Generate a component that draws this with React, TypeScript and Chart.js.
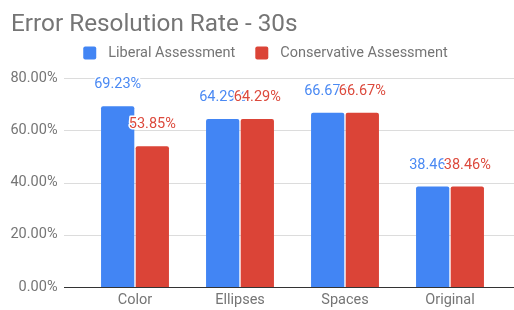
import React, { useEffect, useRef } from "react";
import { Chart, registerables } from "chart.js";

Chart.register(...registerables);

const TITLE = "Error Resolution Rate - 30s";
const categories = ["Color", "Ellipses", "Spaces", "Original"];
const seriesNames = ["Liberal Assessment", "Conservative Assessment"];
const liberal = [69.23, 64.29, 66.67, 38.46];
const conservative = [53.85, 64.29, 66.67, 38.46];
const seriesColors = ["#4285F4", "#DB4437"];
const labelColors = ["#4a89f3", "#dc4a3d"];
const yTicks = [0, 20, 40, 60, 80];

const FONT = "Roboto";
const GREY = "#757575";
const AREA_BOTTOM = 287;

const titlePlugin = {
  id: "titleText",
  afterDraw(chart: any) {
    const ctx = chart.ctx;
    ctx.save();
    ctx.font = `400 24.3px ${FONT}`;
    ctx.fillStyle = GREY;
    ctx.textAlign = "left";
    ctx.textBaseline = "alphabetic";
    ctx.fillText(TITLE, 11, 31);
    ctx.restore();
  },
};

const legendPlugin = {
  id: "customLegend",
  afterDraw(chart: any) {
    const ctx = chart.ctx;
    ctx.save();
    ctx.font = `400 14.5px ${FONT}`;
    ctx.textBaseline = "middle";
    ctx.textAlign = "left";
    const box = 13;
    const gap = 12;
    const itemGap = 20;
    const items = chart.data.datasets.map((d: any) => ({
      label: d.label,
      color: d.backgroundColor,
      w: box + gap + ctx.measureText(d.label).width,
    }));
    const total = items.reduce((s: number, it: any) => s + it.w, 0) + itemGap * (items.length - 1);
    let x = 265.5 - total / 2;
    const cy = 53;
    items.forEach((it: any) => {
      ctx.fillStyle = it.color;
      ctx.beginPath();
      (ctx as any).roundRect(x, cy - 6.5, box, 13, 2);
      ctx.fill();
      ctx.fillStyle = GREY;
      ctx.fillText(it.label, x + box + gap, cy);
      x += it.w + itemGap;
    });
    ctx.restore();
  },
};

const gridPlugin = {
  id: "wideGrid",
  beforeDatasetsDraw(chart: any) {
    const ctx = chart.ctx;
    const y = chart.scales.y;
    ctx.save();
    yTicks.forEach((v) => {
      const py = Math.round(y.getPixelForValue(v)) + 0.5;
      ctx.beginPath();
      ctx.strokeStyle = v === 0 ? "#333333" : "#dcdcdc";
      ctx.lineWidth = 1;
      ctx.moveTo(64, py);
      ctx.lineTo(514, py);
      ctx.stroke();
    });
    ctx.restore();
  },
};

const dataLabelPlugin = {
  id: "dataLabels",
  afterDatasetsDraw(chart: any) {
    const ctx = chart.ctx;
    ctx.save();
    ctx.font = `400 14.5px ${FONT}`;
    ctx.textAlign = "center";
    ctx.textBaseline = "middle";
    ctx.lineJoin = "round";
    chart.data.datasets.forEach((ds: any, di: number) => {
      const meta = chart.getDatasetMeta(di);
      meta.data.forEach((el: any, i: number) => {
        const text = Number(ds.data[i]).toFixed(2) + "%";
        const ty = el.y - 21.5;
        ctx.strokeStyle = "#ffffff";
        ctx.lineWidth = 3;
        ctx.strokeText(text, el.x, ty);
        ctx.fillStyle = labelColors[di];
        ctx.fillText(text, el.x, ty);
      });
    });
    ctx.restore();
  },
};

export default function App() {
  const ref = useRef<HTMLCanvasElement | null>(null);
  useEffect(() => {
    if (!ref.current) return;
    const chart: any = new Chart(ref.current, {
      type: "bar",
      data: {
        labels: categories,
        datasets: [
          {
            label: seriesNames[0],
            data: liberal,
            backgroundColor: seriesColors[0],
            borderRadius: 2,
            barPercentage: 0.96,
            categoryPercentage: 0.66,
          },
          {
            label: seriesNames[1],
            data: conservative,
            backgroundColor: seriesColors[1],
            borderRadius: 2,
            barPercentage: 0.96,
            categoryPercentage: 0.66,
          },
        ],
      },
      options: {
        animation: false,
        responsive: false,
        devicePixelRatio: 1,
        layout: { autoPadding: false, padding: { left: 0, right: 11.5, top: 78, bottom: 0 } },
        plugins: {
          title: { display: false },
          tooltip: { enabled: false },
          legend: { display: false },
        },
        scales: {
          x: {
            grid: { display: false, drawTicks: false },
            border: { display: false },
            ticks: {
              color: GREY,
              font: { family: FONT, size: 14.5 },
              padding: 5,
              maxRotation: 0,
            },
            afterFit(scale: any) {
              scale.height = 23;
              scale.paddingLeft = 0;
              scale.paddingRight = 0;
            },
          },
          y: {
            min: 0,
            max: 80,
            grid: { display: false, drawTicks: false },
            border: { display: false },
            ticks: {
              stepSize: 20,
              color: GREY,
              font: { family: FONT, size: 14.5 },
              padding: 25,
              callback: (v: any) => Number(v).toFixed(2) + "%",
            },
            afterFit(scale: any) {
              scale.width = 82.5;
              scale.paddingTop = 0;
              scale.paddingBottom = 0;
            },
          },
        },
      },
      plugins: [gridPlugin, dataLabelPlugin, titlePlugin, legendPlugin],
    });
    const diff = AREA_BOTTOM - chart.chartArea.bottom;
    if (Math.abs(diff) > 0.2) {
      chart.options.layout.padding.bottom = -diff;
      chart.update();
    }
    return () => chart.destroy();
  }, []);
  return (
    <div style={{ position: "absolute", left: 0, top: 0, width: 514, height: 310, background: "#fff" }}>
      <canvas ref={ref} width={514} height={310} style={{ width: 514, height: 310 }} />
    </div>
  );
}
